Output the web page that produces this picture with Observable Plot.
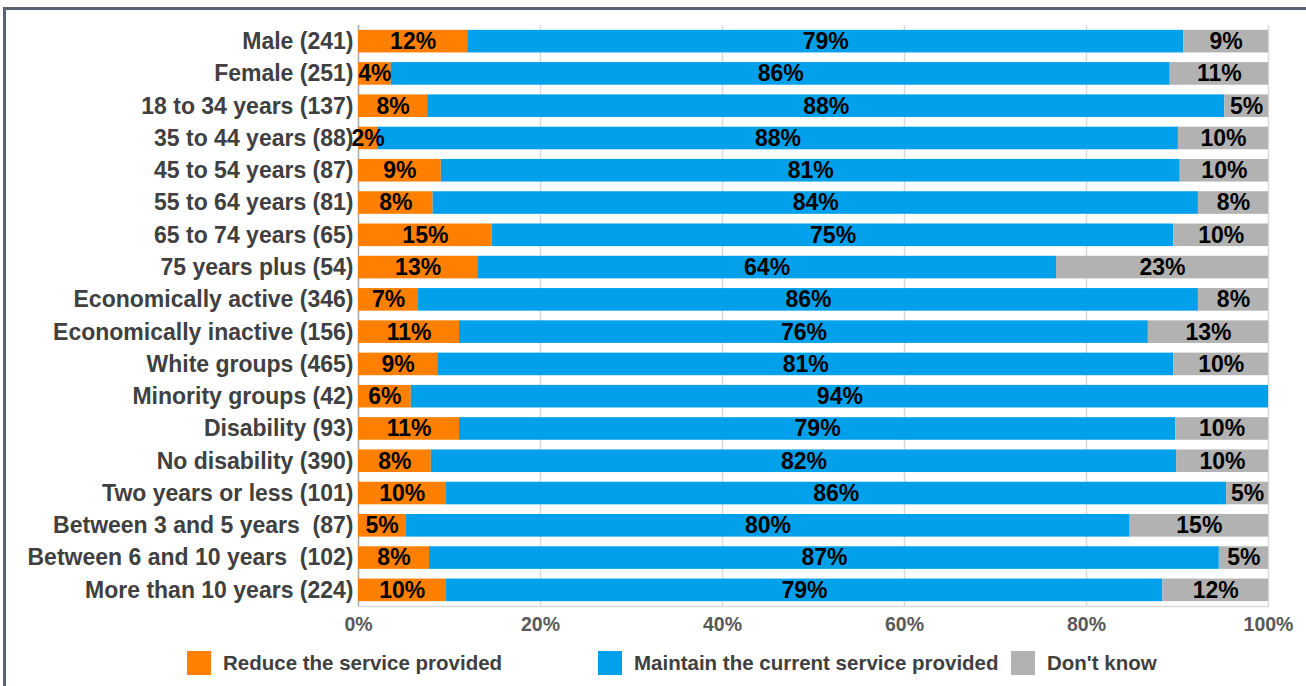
<!DOCTYPE html>
<html>
<head>
<meta charset="utf-8">
<script src="https://cdn.jsdelivr.net/npm/d3@7"></script>
<script src="https://cdn.jsdelivr.net/npm/@observablehq/plot@0.6"></script>
<style>
  html, body { margin: 0; padding: 0; background: #fff; }
  body { width: 1306px; height: 686px; position: relative; overflow: hidden; font-family: "Liberation Sans", Arial, sans-serif; }
  #frame { position: absolute; left: 3px; top: 7px; width: 1320px; height: 700px; border-top: 3px solid #5a6372; border-left: 3px solid #5a6372; box-sizing: border-box; }
  #chart { position: absolute; left: 0; top: 0; }
  #legend { position: absolute; left: 0; top: 651px; width: 1306px; height: 24px; }
  .item { position: absolute; top: 0; height: 24px; display: flex; align-items: center; font-weight: bold; font-size: 20.5px; color: #404040; white-space: nowrap; }
  .sw { width: 24px; height: 24px; margin-right: 12px; flex: none; }
</style>
</head>
<body>
<div id="frame"></div>
<div id="chart"></div>
<div id="legend"></div>
<script>
const groups = [
  "Male (241)", "Female (251)", "18 to 34 years (137)", "35 to 44 years (88)",
  "45 to 54 years (87)", "55 to 64 years (81)", "65 to 74 years (65)", "75 years plus (54)",
  "Economically active (346)", "Economically inactive (156)", "White groups (465)",
  "Minority groups (42)", "Disability (93)", "No disability (390)", "Two years or less (101)",
  "Between 3 and 5 years  (87)", "Between 6 and 10 years  (102)", "More than 10 years (224)"
];
const seriesNames = ["Reduce the service provided", "Maintain the current service provided", "Don't know"];
const seriesColors = ["#FF8000", "#00A0EA", "#B2B2B2"];
const reduce   = [12.0, 3.6, 7.6, 2.1, 9.1, 8.2, 14.7, 13.1, 6.6, 11.1, 8.7, 5.8, 11.1, 8.0, 9.6, 5.2, 7.8, 9.6];
const maintain = [78.7, 85.6, 87.6, 88.0, 81.2, 84.1, 74.9, 63.6, 85.7, 75.7, 80.9, 94.2, 78.7, 81.9, 85.8, 79.6, 86.8, 78.8];
const dontKnow = [9.3, 10.8, 4.8, 9.9, 9.7, 7.7, 10.4, 23.3, 7.7, 13.2, 10.4, 0, 10.2, 10.1, 4.6, 15.2, 5.4, 11.6];
const xTicks = [0, 20, 40, 60, 80, 100];

const seriesValues = [reduce, maintain, dontKnow];
const data = [];
groups.forEach((g, i) => {
  seriesNames.forEach((s, j) => {
    data.push({group: g, series: s, value: seriesValues[j][i]});
  });
});

const font = '"Liberation Sans", Arial, sans-serif';

const chart = Plot.plot({
  width: 1306,
  height: 636,
  marginTop: 25,
  marginBottom: 30,
  marginLeft: 358,
  marginRight: 38,
  style: {fontFamily: font, background: "transparent", overflow: "visible"},
  x: {domain: [0, 100], ticks: xTicks, tickFormat: d => d + "%", label: null},
  y: {domain: groups, paddingInner: 0.3, paddingOuter: 0.15, round: false, label: null},
  color: {domain: seriesNames, range: seriesColors},
  marks: [
    Plot.ruleX(xTicks.filter(t => t > 0), {stroke: "#d9d9d9", strokeWidth: 1.5}),
    Plot.frame({anchor: "bottom", stroke: "#d9d9d9", strokeWidth: 1.5}),
    Plot.ruleX([0], {stroke: "#a6a6a6", strokeWidth: 1.5}),
    Plot.barX(data, Plot.stackX({x: "value", y: "group", fill: "series", order: null})),
    Plot.text(data, Plot.stackX({
      x: "value", y: "group", z: "series", order: null,
      filter: d => d.value > 0.5,
      text: d => Math.round(d.value) + "%",
      fill: "#000", fontSize: 23, fontWeight: "bold", fontFamily: font
    })),
    Plot.axisY({tickSize: 0, tickPadding: 5, fontSize: 23, fontWeight: "bold", color: "#404040", fill: "#404040", fontFamily: font}),
    Plot.axisX({ticks: xTicks, tickSize: 0, tickPadding: 11, tickFormat: d => d + "%", fontSize: 19.5, fontWeight: "bold", fill: "#595959", fontFamily: font, label: null})
  ]
});
document.getElementById("chart").appendChild(chart);

const legendPos = [187, 598, 1011];
const legend = document.getElementById("legend");
seriesNames.forEach((s, j) => {
  const item = document.createElement("div");
  item.className = "item";
  item.style.left = legendPos[j] + "px";
  const sw = document.createElement("span");
  sw.className = "sw";
  sw.style.background = seriesColors[j];
  const tx = document.createElement("span");
  tx.textContent = s;
  item.appendChild(sw);
  item.appendChild(tx);
  legend.appendChild(item);
});
</script>
</body>
</html>
